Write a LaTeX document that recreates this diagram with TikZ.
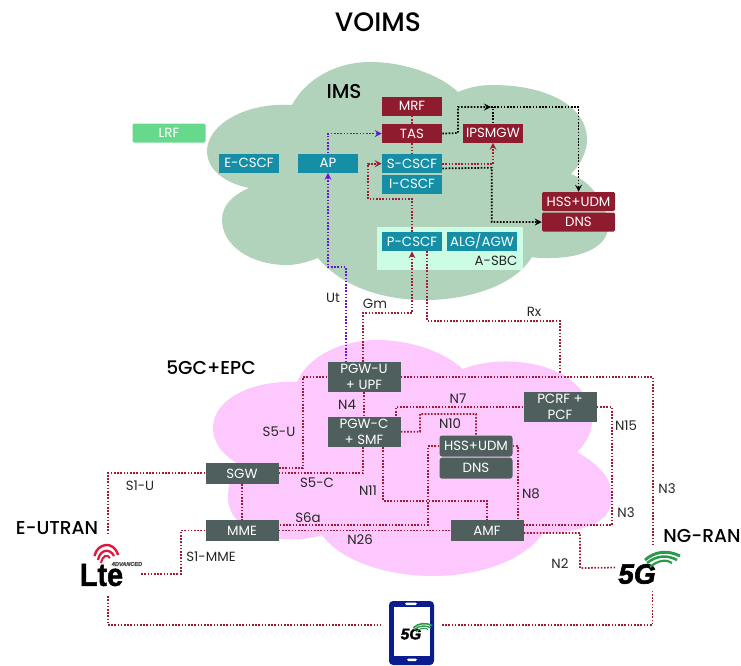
\documentclass[tikz,border=0pt]{standalone}
\usepackage{fontspec}
\usepackage{tikz}
\usetikzlibrary{arrows, positioning, calc}
\setmainfont{Poppins}
\newfontfamily\medfont{Poppins Medium}
\newfontfamily\logofont[BoldFeatures={FakeBold=1.6}, BoldItalicFeatures={FakeBold=2.2}]{Liberation Sans}
\definecolor{imsgreen}{HTML}{B2D3BB}
\definecolor{corepink}{HTML}{FDC8FD}
\definecolor{sbcgreen}{HTML}{CCFDE4}
\definecolor{lrfgreen}{HTML}{66D98C}
\definecolor{imsteal}{HTML}{168FA6}
\definecolor{imsred}{HTML}{8F1B2E}
\definecolor{coregray}{HTML}{4F5F5E}
\definecolor{linkred}{HTML}{A01C32}
\definecolor{linkpurple}{HTML}{6A12D6}
\definecolor{phoneblue}{HTML}{0A1D8F}
\definecolor{swooshgreen}{HTML}{2A9A4A}
\definecolor{ltered}{HTML}{E0173C}

\begin{document}
\begin{tikzpicture}[
        x=0.75pt, y=-0.75pt,
        box/.style={rectangle, text=white, inner sep=0pt, align=center, minimum height=14.25pt, font=\fontsize{10}{12.2}\selectfont},
        tealbox/.style={box, fill=imsteal, minimum width=45pt},
        redbox/.style={box, fill=imsred, minimum width=45pt},
        redwide/.style={box, fill=imsred, rounded corners=1pt, minimum width=54.75pt},
        graybox/.style={box, fill=coregray, minimum width=54.75pt, minimum height=15.75pt},
        graytall/.style={graybox, minimum height=22.5pt},
        lbl/.style={inner sep=0pt, text=black!85, font=\fontsize{10}{12}\selectfont},
        heading/.style={inner sep=0pt, font=\medfont\fontsize{14}{16}\selectfont},
        logobox/.style={inner sep=0pt, minimum width=48.75pt},
        link/.style={line width=1.3pt, linkred, dash pattern=on 1.2pt off 1.2pt, >=stealth},
        blacklink/.style={link, black},
        purplelink/.style={link, linkpurple},
        swoosh/.pic={
            \draw[swooshgreen, line width=2.2pt*#1] (-7,7) .. controls (3,-2) and (16,-3) .. (28,3);
            \draw[swooshgreen, line width=1.9pt*#1] (-5,10) .. controls (5,2) and (16,2) .. (25,7);
            \draw[swooshgreen, line width=1.6pt*#1] (-2,14) .. controls (6,7) and (15,6) .. (20,10);
        }
    ]
        \useasboundingbox (0,0) rectangle (741,665);

        \fill[imsgreen] (249,188) .. controls (225,183) and (207,170) .. (207,151)
            .. controls (207,125) and (245,102) .. (292,105)
            .. controls (305,80) and (335,62) .. (370,62)
            .. controls (405,62) and (440,75) .. (458,92)
            .. controls (470,87) and (480,85) .. (493,85)
            .. controls (545,85) and (587,105) .. (587,140)
            .. controls (587,152) and (580,165) .. (571,174)
            .. controls (592,182) and (608,205) .. (608,227)
            .. controls (608,245) and (585,258) .. (550,258)
            .. controls (542,258) and (535,258) .. (532,257)
            .. controls (515,285) and (470,300) .. (425,300)
            .. controls (380,300) and (340,285) .. (318,258)
            .. controls (305,263) and (295,265) .. (287,265)
            .. controls (250,265) and (222,245) .. (222,220)
            .. controls (222,205) and (233,195) .. (249,188) -- cycle;
        \fill[corepink] (297,382) .. controls (308,355) and (345,339) .. (380,340)
            .. controls (415,341) and (445,353) .. (463,369)
            .. controls (490,358) and (535,358) .. (565,376)
            .. controls (590,392) and (605,425) .. (577,452)
            .. controls (600,465) and (613,480) .. (612,498)
            .. controls (611,525) and (580,532) .. (543,533)
            .. controls (525,560) and (480,576) .. (433,576)
            .. controls (385,576) and (340,560) .. (322,535)
            .. controls (285,547) and (228,535) .. (228,497)
            .. controls (228,482) and (233,472) .. (240,465)
            .. controls (222,455) and (213,442) .. (213,428)
            .. controls (213,400) and (250,380) .. (297,382) -- cycle;
        \fill[sbcgreen] (377,227) rectangle (523,270);

        \node[heading, font=\medfont\fontsize{20}{22}\selectfont] (title) at (378,22) {VOIMS};
        \node[heading, font=\medfont\fontsize{15}{17}\selectfont] (imstitle) at (344,92) {IMS};
        \node[heading] (coretitle) at (211,368) {5GC+EPC};
        \node[heading] (eutran) at (57,528) {E-UTRAN};
        \node[heading] (ngran) at (702,536) {NG-RAN};

        \node[box, fill=lrfgreen, rounded corners=1pt, minimum width=54.75pt] (lrf) at (169,133) {LRF};
        \node[tealbox] (ecscf) at (249,163) {E-CSCF};
        \node[tealbox] (ap) at (328,163) {AP};
        \node[redbox] (mrf) at (412,106) {MRF};
        \node[redbox, below=6pt of mrf] (tas) {TAS};
        \node[tealbox, below=8pt of tas] (scscf) {S-CSCF};
        \node[tealbox, below=0.75pt of scscf] (icscf) {I-CSCF};
        \node[redbox] (ipsmgw) at (493,133) {IPSMGW};
        \node[redwide] (hssims) at (578.5,201.5) {HSS+UDM};
        \node[redwide, below=0.75pt of hssims] (dnsims) {DNS};
        \node[tealbox] (pcscf) at (412,241.5) {P-CSCF};
        \node[tealbox, minimum width=53pt] (alg) at (482,241.5) {ALG/AGW};
        \node[lbl] (sbc) at (496,261) {A-SBC};

        \node[graytall] (pgwu) at (364,377) {PGW-U\\+ UPF};
        \node[graytall] (pgwc) at (364,432) {PGW-C\\+ SMF};
        \node[graytall] (pcrf) at (560,407) {PCRF +\\PCF};
        \node[graybox, rounded corners=2pt] (hsscore) at (476,446) {HSS+UDM};
        \node[graybox, rounded corners=2pt, below=0.5pt of hsscore] (dnscore) {DNS};
        \node[graybox] (sgw) at (242,473.5) {SGW};
        \node[graybox] (mme) at (242,530.5) {MME};
        \node[graybox] (amf) at (487,530.5) {AMF};

        \node[logobox, minimum height=45.75pt] (lte) at (108,565.5) {};
        \node[inner sep=0pt, xscale=0.9, font=\logofont\bfseries\fontsize{24}{24}\selectfont] (ltetext) at (101.5,575) {Lte};
        \node[inner sep=0pt, text=black!70, font=\logofont\bfseries\itshape\fontsize{4.2}{5}\selectfont] (lteplus) at (127,564) {4DVANCED};
        \draw[ltered, line width=1.8pt] (94.5,556) .. controls (97,543) and (114,540) .. (118,555);
        \draw[ltered, line width=1.7pt] (98,560) .. controls (100,549) and (110,548) .. (114,556);
        \draw[ltered, line width=1.5pt] (101,563) .. controls (103,555) and (107,554) .. (110,558);

        \node[logobox, minimum width=54pt, minimum height=33.75pt] (fiveg) at (652.5,567.5) {};
        \node[inner sep=0pt, font=\logofont\bfseries\itshape\fontsize{21}{21}\selectfont] (fivegtext) at (637,574) {5G};
        \pic at (652,553) {swoosh=1};

        \node[rectangle, fill=phoneblue, rounded corners=3pt, inner sep=0pt, outer sep=6pt, minimum width=33.75pt, minimum height=48pt] (phone) at (411.5,633) {};
        \fill[white] (394,607) rectangle (429.5,656);
        \fill[white, rounded corners=1pt] (405,602.5) rectangle (417,605);
        \fill[white, rounded corners=1pt] (407,658.5) rectangle (417,661);
        \node[inner sep=0pt, font=\logofont\bfseries\itshape\fontsize{11.5}{12}\selectfont] (phonetext) at (411,634) {5G};
        \pic[scale=0.55] at (417,624) {swoosh=0.55};

        \draw[purplelink, <-] (ap.south) -- (328,267) -- (346,267) -- ($(pgwu.north)+(-18,0)$);
        \draw[purplelink, ->] (ap.north) |- (tas.west);
        \draw[link, ->] ($(pgwu.north)+(-1,0)$) -- (363,313) -- (412,313) -- (pcscf.south);
        \draw[link, ->] (pcscf.north) -- (412,199) -- (368,199) |- (scscf.west);
        \draw[link] (mrf) -- (tas);
        \draw[link] (tas) -- (scscf);
        \draw[link, ->] ($(scscf.east)+(0,0.3)$) -| (ipsmgw.south);
        \draw[blacklink, ->] (tas.east) -- (458,133) -- (458,107) -- (491,107);
        \draw[blacklink] (ipsmgw.north) -- (493,107);
        \draw[blacklink, ->] (491,107) -- (578.5,107) -- (hssims.north);
        \draw[blacklink, ->] ($(scscf.east)+(0,4.7)$) -- (491.7,167.7) |- (dnsims.west);
        \draw[link] ($(pcscf.south)+(15,0)$) -- (427,321) -- (560,321) -- (560,373);

        \draw[link] (pgwu.east) -- (653,377) -- (653,545);
        \draw[link] (pgwu.west) -- (303,377) -- (303,468) -- ($(sgw.east)+(0,-5.5)$);
        \draw[link] (pgwu) -- (pgwc);
        \draw[link] ($(pgwc.south)+(-1,0)$) -- (363,473) -- ($(sgw.east)+(0,-0.5)$);
        \draw[link] (pcrf.west) -- (396,407) -- (396,416.7);
        \draw[link] ($(pgwc.east)+(0,-0.3)$) -- (420,431.7) -- (420,414) -- (476,414) -- (hsscore.north);
        \draw[link] (pcrf.east) -- (612,407) -- (612,525) -- ($(amf.east)+(0,-5.5)$);
        \draw[link] ($(pgwc.south)+(19,0)$) -- (383,500.7) -- (487,500.7) -- (amf.north);
        \draw[link] (hsscore.west) -- (428,446) -- (428,525) -- ($(mme.east)+(0,-5.5)$);
        \draw[link] (hsscore.east) -- (518,446) -- (518,520);
        \draw[link] (mme.east) -- (amf.west);
        \draw[link] (sgw) -- (mme);
        \draw[link] ($(sgw.west)+(0,-0.5)$) -- (108,473) -- (lte.north);
        \draw[link] (mme.west) -- (181,530.5) -- (181,573.7) -- (lte.east |- 0,573.7);
        \draw[link] (lte.south) -- (108,625) -- (phone.west |- 0,625);
        \draw[link] (phone.east |- 0,625) -- (652.5,625) -- (fiveg.south);
        \draw[link] ($(amf.east)+(0,2.5)$) -- (580,533) -- (580,568) -- (fiveg.west);

        \node[lbl] (lbut) at (333,298) {Ut};
        \node[lbl] (lbgm) at (375,304) {Gm};
        \node[lbl] (lbrx) at (534,312) {Rx};
        \node[lbl] (lbnfour) at (347,405) {N4};
        \node[lbl] (lbnseven) at (458,399) {N7};
        \node[lbl] (lbnten) at (450,424) {N10};
        \node[lbl] (lbnfifteen) at (626,426) {N15};
        \node[lbl] (lbneleven) at (368,491) {N11};
        \node[lbl] (lbneight) at (531,494) {N8};
        \node[lbl] (lbnthreea) at (667,489) {N3};
        \node[lbl] (lbnthreeb) at (626,513) {N3};
        \node[lbl] (lbntwo) at (560,564) {N2};
        \node[lbl] (lbnsix) at (360,540) {N26};
        \node[lbl] (lbsixa) at (308,518) {S6a};
        \node[lbl] (lbsfiveu) at (279,432) {S5-U};
        \node[lbl] (lbsfivec) at (317,483) {S5-C};
        \node[lbl] (lbsoneu) at (140,486) {S1-U};
        \node[lbl] (lbsonem) at (211,557) {S1-MME};
    \end{tikzpicture}
\end{document}
